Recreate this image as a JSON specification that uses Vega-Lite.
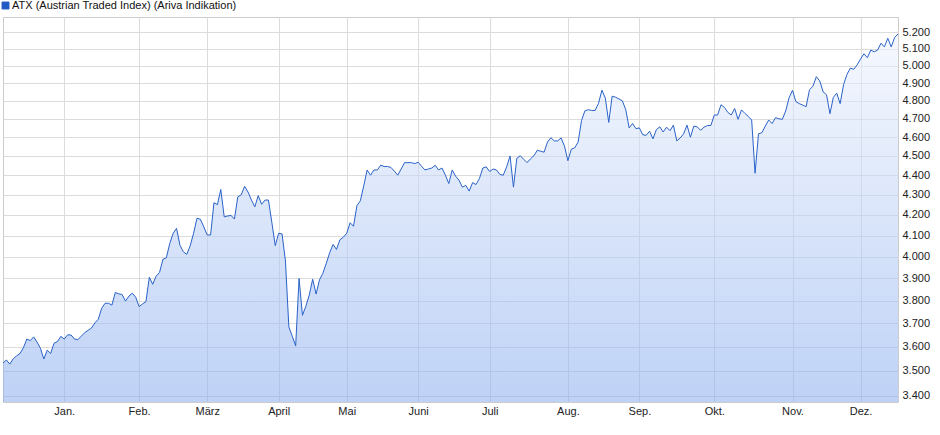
{
  "$schema": "https://vega.github.io/schema/vega-lite/v6.json",
  "width": 895,
  "height": 385,
  "autosize": {"type": "none"},
  "padding": {"left": 3, "top": 17, "right": 42, "bottom": 33},
  "background": "white",
  "config": {"view": {"stroke": "#cccccc"}, "font": "Liberation Sans"},
  "data": {"values": [
    {"date":"2024-12-02","close":3532},{"date":"2024-12-03","close":3545},{"date":"2024-12-04","close":3528},{"date":"2024-12-05","close":3550},{"date":"2024-12-06","close":3562},
    {"date":"2024-12-09","close":3572},{"date":"2024-12-10","close":3596},{"date":"2024-12-11","close":3633},{"date":"2024-12-12","close":3626},{"date":"2024-12-13","close":3642},
    {"date":"2024-12-16","close":3620},{"date":"2024-12-17","close":3594},{"date":"2024-12-18","close":3549},{"date":"2024-12-19","close":3586},{"date":"2024-12-20","close":3572},
    {"date":"2024-12-23","close":3615},{"date":"2024-12-27","close":3622},{"date":"2024-12-30","close":3644},
    {"date":"2025-01-02","close":3633},{"date":"2025-01-03","close":3651},{"date":"2025-01-06","close":3650},{"date":"2025-01-07","close":3633},{"date":"2025-01-08","close":3630},
    {"date":"2025-01-09","close":3645},{"date":"2025-01-10","close":3660},{"date":"2025-01-13","close":3670},{"date":"2025-01-14","close":3680},{"date":"2025-01-15","close":3702},
    {"date":"2025-01-16","close":3718},{"date":"2025-01-17","close":3766},{"date":"2025-01-20","close":3788},{"date":"2025-01-21","close":3788},{"date":"2025-01-22","close":3780},
    {"date":"2025-01-23","close":3836},{"date":"2025-01-24","close":3830},{"date":"2025-01-27","close":3827},{"date":"2025-01-28","close":3798},{"date":"2025-01-29","close":3820},
    {"date":"2025-01-30","close":3833},{"date":"2025-01-31","close":3815},
    {"date":"2025-02-03","close":3773},{"date":"2025-02-04","close":3785},{"date":"2025-02-05","close":3795},{"date":"2025-02-06","close":3905},{"date":"2025-02-07","close":3873},
    {"date":"2025-02-10","close":3910},{"date":"2025-02-11","close":3927},{"date":"2025-02-12","close":3988},{"date":"2025-02-13","close":3995},{"date":"2025-02-14","close":4062},
    {"date":"2025-02-17","close":4111},{"date":"2025-02-18","close":4135},{"date":"2025-02-19","close":4054},{"date":"2025-02-20","close":4023},{"date":"2025-02-21","close":4011},
    {"date":"2025-02-24","close":4051},{"date":"2025-02-25","close":4111},{"date":"2025-02-26","close":4184},{"date":"2025-02-27","close":4179},{"date":"2025-02-28","close":4142},
    {"date":"2025-03-03","close":4103},{"date":"2025-03-04","close":4103},{"date":"2025-03-05","close":4261},{"date":"2025-03-06","close":4251},{"date":"2025-03-07","close":4327},
    {"date":"2025-03-10","close":4191},{"date":"2025-03-11","close":4195},{"date":"2025-03-12","close":4198},{"date":"2025-03-13","close":4180},{"date":"2025-03-14","close":4290},
    {"date":"2025-03-17","close":4300},{"date":"2025-03-18","close":4343},{"date":"2025-03-19","close":4314},{"date":"2025-03-20","close":4274},{"date":"2025-03-21","close":4240},
    {"date":"2025-03-24","close":4296},{"date":"2025-03-25","close":4253},{"date":"2025-03-26","close":4274},{"date":"2025-03-27","close":4274},{"date":"2025-03-28","close":4164},
    {"date":"2025-03-31","close":4052},
    {"date":"2025-04-01","close":4111},{"date":"2025-04-02","close":4108},{"date":"2025-04-03","close":3980},{"date":"2025-04-04","close":3685},
    {"date":"2025-04-07","close":3645},{"date":"2025-04-08","close":3604},{"date":"2025-04-09","close":3900},{"date":"2025-04-10","close":3735},{"date":"2025-04-11","close":3775},
    {"date":"2025-04-14","close":3825},{"date":"2025-04-15","close":3896},{"date":"2025-04-16","close":3829},{"date":"2025-04-17","close":3893},
    {"date":"2025-04-22","close":3923},{"date":"2025-04-23","close":3969},{"date":"2025-04-24","close":4019},{"date":"2025-04-25","close":4058},
    {"date":"2025-04-28","close":4034},{"date":"2025-04-29","close":4080},{"date":"2025-04-30","close":4092},
    {"date":"2025-05-02","close":4111},{"date":"2025-05-05","close":4162},{"date":"2025-05-06","close":4145},{"date":"2025-05-07","close":4246},{"date":"2025-05-08","close":4270},
    {"date":"2025-05-09","close":4345},{"date":"2025-05-12","close":4427},{"date":"2025-05-13","close":4400},{"date":"2025-05-14","close":4427},{"date":"2025-05-15","close":4427},
    {"date":"2025-05-16","close":4452},{"date":"2025-05-19","close":4445},{"date":"2025-05-20","close":4445},{"date":"2025-05-21","close":4440},{"date":"2025-05-22","close":4421},
    {"date":"2025-05-23","close":4400},{"date":"2025-05-26","close":4432},{"date":"2025-05-27","close":4465},{"date":"2025-05-28","close":4465},{"date":"2025-05-29","close":4465},
    {"date":"2025-05-30","close":4460},
    {"date":"2025-06-02","close":4467},{"date":"2025-06-03","close":4446},{"date":"2025-06-04","close":4427},{"date":"2025-06-05","close":4432},{"date":"2025-06-06","close":4437},
    {"date":"2025-06-09","close":4451},{"date":"2025-06-10","close":4427},{"date":"2025-06-11","close":4437},{"date":"2025-06-12","close":4400},{"date":"2025-06-13","close":4357},
    {"date":"2025-06-16","close":4427},{"date":"2025-06-17","close":4395},{"date":"2025-06-18","close":4374},{"date":"2025-06-19","close":4339},{"date":"2025-06-20","close":4348},
    {"date":"2025-06-23","close":4319},{"date":"2025-06-24","close":4362},{"date":"2025-06-25","close":4352},{"date":"2025-06-26","close":4383},{"date":"2025-06-27","close":4437},
    {"date":"2025-06-30","close":4443},
    {"date":"2025-07-01","close":4419},{"date":"2025-07-02","close":4432},{"date":"2025-07-03","close":4427},{"date":"2025-07-04","close":4404},
    {"date":"2025-07-07","close":4400},{"date":"2025-07-08","close":4443},{"date":"2025-07-09","close":4500},{"date":"2025-07-10","close":4339},{"date":"2025-07-11","close":4488},
    {"date":"2025-07-14","close":4501},{"date":"2025-07-15","close":4483},{"date":"2025-07-16","close":4465},{"date":"2025-07-17","close":4485},{"date":"2025-07-18","close":4501},
    {"date":"2025-07-21","close":4530},{"date":"2025-07-22","close":4525},{"date":"2025-07-23","close":4520},{"date":"2025-07-24","close":4574},{"date":"2025-07-25","close":4597},
    {"date":"2025-07-28","close":4580},{"date":"2025-07-29","close":4580},{"date":"2025-07-30","close":4596},{"date":"2025-07-31","close":4552},
    {"date":"2025-08-01","close":4475},{"date":"2025-08-04","close":4536},{"date":"2025-08-05","close":4543},{"date":"2025-08-06","close":4574},{"date":"2025-08-07","close":4690},
    {"date":"2025-08-08","close":4744},{"date":"2025-08-11","close":4750},{"date":"2025-08-12","close":4746},{"date":"2025-08-13","close":4746},{"date":"2025-08-14","close":4786},
    {"date":"2025-08-15","close":4860},{"date":"2025-08-18","close":4815},{"date":"2025-08-19","close":4680},{"date":"2025-08-20","close":4826},{"date":"2025-08-21","close":4820},
    {"date":"2025-08-22","close":4810},{"date":"2025-08-25","close":4800},{"date":"2025-08-26","close":4750},{"date":"2025-08-27","close":4650},{"date":"2025-08-28","close":4674},
    {"date":"2025-08-29","close":4646},
    {"date":"2025-09-01","close":4650},{"date":"2025-09-02","close":4613},{"date":"2025-09-03","close":4610},{"date":"2025-09-04","close":4632},{"date":"2025-09-05","close":4591},
    {"date":"2025-09-08","close":4641},{"date":"2025-09-09","close":4656},{"date":"2025-09-10","close":4628},{"date":"2025-09-11","close":4654},{"date":"2025-09-12","close":4635},
    {"date":"2025-09-15","close":4665},{"date":"2025-09-16","close":4580},{"date":"2025-09-17","close":4596},{"date":"2025-09-18","close":4618},{"date":"2025-09-19","close":4665},
    {"date":"2025-09-22","close":4600},{"date":"2025-09-23","close":4660},{"date":"2025-09-24","close":4656},{"date":"2025-09-25","close":4637},{"date":"2025-09-26","close":4654},
    {"date":"2025-09-29","close":4663},{"date":"2025-09-30","close":4663},
    {"date":"2025-10-01","close":4720},{"date":"2025-10-02","close":4721},{"date":"2025-10-03","close":4778},
    {"date":"2025-10-06","close":4763},{"date":"2025-10-07","close":4735},{"date":"2025-10-08","close":4721},{"date":"2025-10-09","close":4757},{"date":"2025-10-10","close":4697},
    {"date":"2025-10-13","close":4749},{"date":"2025-10-14","close":4730},{"date":"2025-10-15","close":4713},{"date":"2025-10-16","close":4693},{"date":"2025-10-17","close":4410},
    {"date":"2025-10-20","close":4618},{"date":"2025-10-21","close":4624},{"date":"2025-10-22","close":4660},{"date":"2025-10-23","close":4693},{"date":"2025-10-24","close":4674},
    {"date":"2025-10-27","close":4706},{"date":"2025-10-28","close":4700},{"date":"2025-10-29","close":4697},{"date":"2025-10-30","close":4743},{"date":"2025-10-31","close":4817},
    {"date":"2025-11-03","close":4859},{"date":"2025-11-04","close":4795},{"date":"2025-11-05","close":4784},{"date":"2025-11-06","close":4776},{"date":"2025-11-07","close":4767},
    {"date":"2025-11-10","close":4863},{"date":"2025-11-11","close":4882},{"date":"2025-11-12","close":4937},{"date":"2025-11-13","close":4913},{"date":"2025-11-14","close":4850},
    {"date":"2025-11-17","close":4834},{"date":"2025-11-18","close":4728},{"date":"2025-11-19","close":4819},{"date":"2025-11-20","close":4843},{"date":"2025-11-21","close":4784},
    {"date":"2025-11-24","close":4891},{"date":"2025-11-25","close":4950},{"date":"2025-11-26","close":4987},{"date":"2025-11-27","close":4980},{"date":"2025-11-28","close":5006},
    {"date":"2025-12-01","close":5041},{"date":"2025-12-02","close":5071},{"date":"2025-12-03","close":5048},{"date":"2025-12-04","close":5093},{"date":"2025-12-05","close":5083},
    {"date":"2025-12-08","close":5093},{"date":"2025-12-09","close":5134},{"date":"2025-12-10","close":5112},{"date":"2025-12-11","close":5164},{"date":"2025-12-12","close":5112},
    {"date":"2025-12-15","close":5168},{"date":"2025-12-16","close":5190}
  ]},
  "encoding": {
    "x": {
      "field": "date", "type": "ordinal",
      "scale": {"type": "point", "padding": 0},
      "axis": {
        "orient": "bottom", "title": null, "labelAngle": 0,
        "values": ["2025-01-02","2025-02-03","2025-03-03","2025-04-01","2025-05-02","2025-06-02","2025-07-01","2025-08-01","2025-09-01","2025-10-01","2025-11-03","2025-12-01"],
        "labelExpr": "['Jan.','Feb.','März','April','Mai','Juni','Juli','Aug.','Sep.','Okt.','Nov.','Dez.'][toNumber(substring(datum.value,5,7))-1]",
        "grid": true, "gridColor": "#dcdcdc", "gridWidth": 1, "ticks": false, "domain": false,
        "labelFont": "Liberation Sans", "labelFontSize": 11, "labelColor": "#222222", "labelPadding": 3
      }
    },
    "y": {
      "field": "close", "type": "quantitative",
      "scale": {"type": "log", "domain": [3375, 5294], "nice": false},
      "axis": {
        "orient": "right", "title": null,
        "values": [3400,3500,3600,3700,3800,3900,4000,4100,4200,4300,4400,4500,4600,4700,4800,4900,5000,5100,5200],
        "labelExpr": "replace(format(datum.value, ','), ',', '.')",
        "grid": true, "gridColor": "#dcdcdc", "gridWidth": 1, "ticks": false, "domain": false,
        "labelFont": "Liberation Sans", "labelFontSize": 11, "labelColor": "#222222", "labelPadding": 4, "labelAlign": "left"
      }
    }
  },
  "layer": [
    {
      "mark": {
        "type": "area",
        "fillOpacity": 0.55,
        "color": {"gradient": "linear", "x1": 0, "y1": 0, "x2": 0, "y2": 1,
          "stops": [{"offset": 0, "color": "#eef3fd"}, {"offset": 1, "color": "#89adef"}]}
      },
      "encoding": {"y2": {"datum": 3375}}
    },
    {
      "mark": {"type": "line", "strokeWidth": 1},
      "encoding": {
        "color": {
          "datum": "ATX (Austrian Traded Index) (Ariva Indikation)",
          "scale": {"range": ["#2a62c8"]},
          "legend": {
            "orient": "none", "legendX": -3, "legendY": -17, "padding": 0, "title": null,
            "symbolType": "square", "symbolSize": 49, "symbolStrokeWidth": 1,
            "labelFont": "Liberation Sans", "labelFontSize": 11, "labelColor": "#111111", "labelOffset": 1, "labelLimit": 500,
            "encode": {"symbols": {"update": {"fill": {"value": "#2058c4"}, "stroke": {"value": "#0f2f72"}, "strokeWidth": {"value": 1}, "opacity": {"value": 1}}}}
          }
        }
      }
    }
  ]
}
